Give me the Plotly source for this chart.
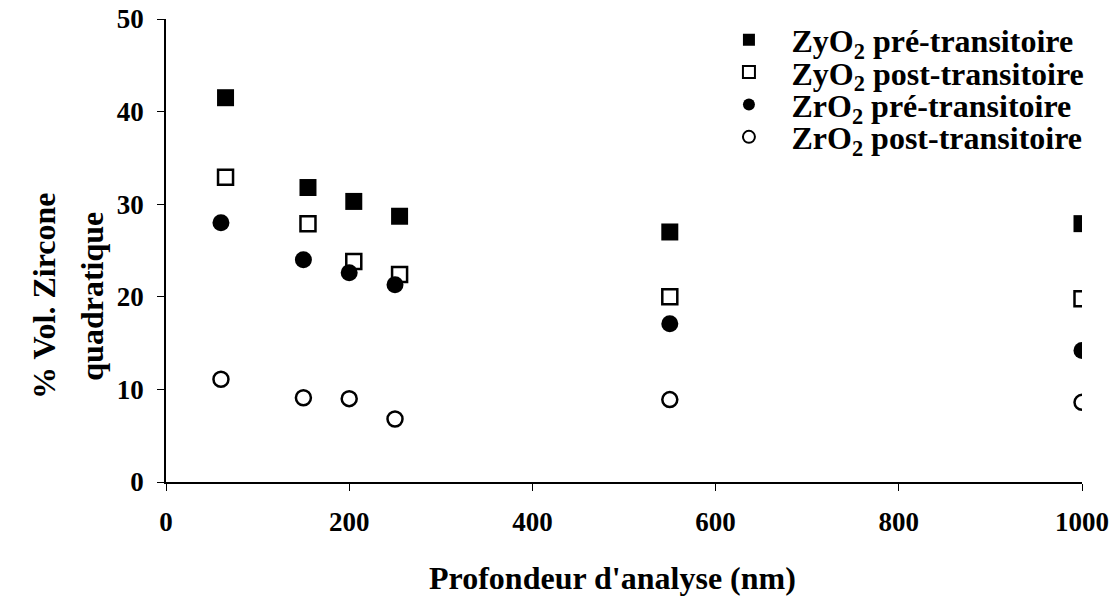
import plotly.graph_objects as go

# depth of analysis (nm)
x_squares = [65, 155, 205, 255, 550, 1000]
x_circles = [60, 150, 200, 250, 550, 1000]

zyo2_pre = [41.5, 31.8, 30.3, 28.7, 27.0, 27.9]
zyo2_post = [32.9, 27.9, 23.8, 22.4, 20.0, 19.8]
zro2_pre = [28.0, 24.0, 22.6, 21.3, 17.1, 14.2]
zro2_post = [11.1, 9.1, 9.0, 6.8, 8.9, 8.6]

x_ticks = [0, 200, 400, 600, 800, 1000]
y_ticks = [0, 10, 20, 30, 40, 50]

FONT = "Liberation Serif"

fig = go.Figure()
fig.add_trace(go.Scatter(x=x_squares, y=zyo2_pre, mode="markers", name="ZyO<sub>2</sub> pré-transitoire",
                         legend="legend", marker=dict(symbol="square", size=17, color="black")))
fig.add_trace(go.Scatter(x=x_squares, y=zyo2_post, mode="markers", name="ZyO<sub>2</sub> post-transitoire",
                         legend="legend2",
                         marker=dict(symbol="square-open", size=15, color="black", line=dict(width=2.5))))
fig.add_trace(go.Scatter(x=x_circles, y=zro2_pre, mode="markers", name="ZrO<sub>2</sub> pré-transitoire",
                         legend="legend3", marker=dict(symbol="circle", size=17, color="black")))
fig.add_trace(go.Scatter(x=x_circles, y=zro2_post, mode="markers", name="ZrO<sub>2</sub> post-transitoire",
                         legend="legend4",
                         marker=dict(symbol="circle-open", size=15, color="black", line=dict(width=2.5))))


# one legend per entry so the rows can sit as close as in the original
def leg(y):
    return dict(x=0.59, y=y, xanchor="left", yanchor="middle", itemsizing="constant",
                itemwidth=75, font=dict(family=FONT, size=32, weight="bold"),
                bgcolor="rgba(0,0,0,0)")


fig.update_layout(
    width=1112, height=610,
    margin=dict(l=166, r=30, t=19, b=128, autoexpand=False),
    plot_bgcolor="white", paper_bgcolor="white",
    font=dict(family=FONT, size=27, color="black", weight="bold"),
    showlegend=True,
    legend=leg(0.955), legend2=leg(0.885), legend3=leg(0.815), legend4=leg(0.745),
    xaxis=dict(range=[0, 1000], tickvals=x_ticks, showline=True, linecolor="black", linewidth=1.5,
               ticks="outside", ticklen=7, tickcolor="black", showgrid=False, zeroline=False,
               ticklabelstandoff=8, automargin=False),
    yaxis=dict(range=[0, 50], tickvals=y_ticks, showline=True, linecolor="black", linewidth=1.5,
               ticks="outside", ticklen=7, tickcolor="black", showgrid=False, zeroline=False,
               ticklabelstandoff=8, automargin=False),
    annotations=[
        dict(text="Profondeur d'analyse (nm)", xref="paper", yref="paper", x=0.487, y=-0.207,
             xanchor="center", yanchor="middle", showarrow=False,
             font=dict(family=FONT, size=32, weight="bold")),
        dict(text="% Vol. Zircone", xref="paper", yref="paper", x=-0.133, y=0.402,
             xanchor="center", yanchor="middle", textangle=-90, showarrow=False,
             font=dict(family=FONT, size=32, weight="bold")),
        dict(text="quadratique", xref="paper", yref="paper", x=-0.081, y=0.402,
             xanchor="center", yanchor="middle", textangle=-90, showarrow=False,
             font=dict(family=FONT, size=32, weight="bold")),
    ],
)

# drop the default 8px body margin so the 1112x610 figure fills the window exactly
fig.write_html("out.html", config={"displayModeBar": False},
               post_script="document.body.style.margin = '0';")
